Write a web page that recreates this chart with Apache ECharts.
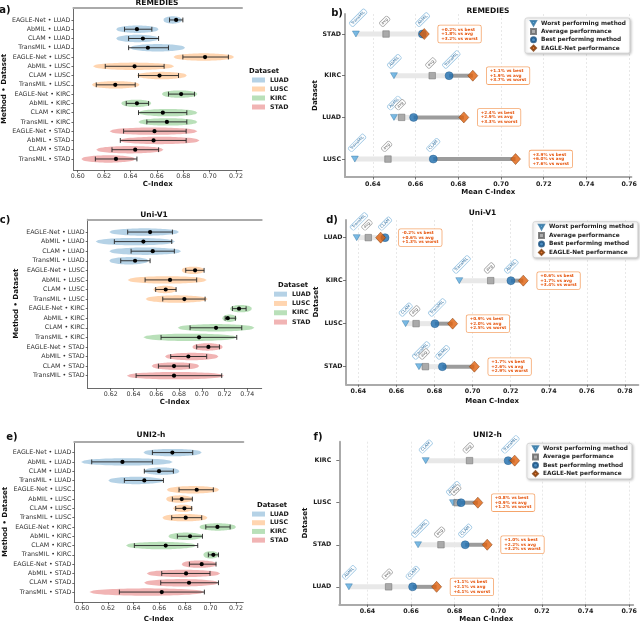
<!DOCTYPE html>
<html>
<head>
<meta charset="utf-8">
<title>EAGLE-Net C-Index</title>
<script src="https://cdn.jsdelivr.net/npm/echarts@6/dist/echarts.min.js"></script>
<style>
  html, body { margin: 0; padding: 0; background: #fff; }
  #chart { width: 640px; height: 624px; }
</style>
</head>
<body>
<div id="chart"></div>
<script>
// row labels shared by panels a, c, e (top to bottom)
var rowLabels = [
  'EAGLE-Net • LUAD', 'AbMIL • LUAD', 'CLAM • LUAD', 'TransMIL • LUAD',
  'EAGLE-Net • LUSC', 'AbMIL • LUSC', 'CLAM • LUSC', 'TransMIL • LUSC',
  'EAGLE-Net • KIRC', 'AbMIL • KIRC', 'CLAM • KIRC', 'TransMIL • KIRC',
  'EAGLE-Net • STAD', 'AbMIL • STAD', 'CLAM • STAD', 'TransMIL • STAD'
];
var datasets = ['LUAD', 'LUSC', 'KIRC', 'STAD'];
var rowIdx = [0, 1, 2, 3, 4, 5, 6, 7, 8, 9, 10, 11, 12, 13, 14, 15];

// a) REMEDIES - spread over runs
var violinA = [[0.665, 0.679], [0.6292, 0.6613], [0.6292, 0.6613], [0.6398, 0.6814],
  [0.6726, 0.7185], [0.6116, 0.6731], [0.6449, 0.6827], [0.6108, 0.6469],
  [0.6638, 0.6907], [0.633, 0.6557], [0.6461, 0.6907], [0.6461, 0.6907],
  [0.6242, 0.6907], [0.6318, 0.6923], [0.6141, 0.665], [0.6028, 0.6436]];
var errA = [[0.6696, 0.6797], [0.6355, 0.6562], [0.6386, 0.6613], [0.6386, 0.6688],
  [0.6797, 0.7142], [0.6209, 0.6655], [0.6461, 0.6764], [0.6141, 0.6436],
  [0.6688, 0.6885], [0.6368, 0.6537], [0.6461, 0.6827], [0.6524, 0.6827],
  [0.6348, 0.6822], [0.6323, 0.6822], [0.626, 0.6613], [0.6134, 0.6449]];
var meanA = [0.6746, 0.6449, 0.6494, 0.6532, 0.6965, 0.6431, 0.662, 0.6285,
  0.6784, 0.6449, 0.6645, 0.6676, 0.6582, 0.6575, 0.6436, 0.629];
var ticksA = [0.60, 0.62, 0.64, 0.66, 0.68, 0.70, 0.72];

// c) Uni-V1
var violinC = [[0.6188, 0.68], [0.6068, 0.6765], [0.6188, 0.6818], [0.6188, 0.6531],
  [0.6824, 0.7023], [0.6349, 0.7043], [0.6575, 0.678], [0.6507, 0.7052],
  [0.7248, 0.7439], [0.7181, 0.7307], [0.6789, 0.7462], [0.6487, 0.7307],
  [0.6917, 0.7184], [0.6677, 0.7146], [0.656, 0.6977], [0.6341, 0.7196]];
var errC = [[0.6349, 0.6742], [0.6232, 0.6736], [0.6379, 0.6759], [0.6288, 0.6546],
  [0.6859, 0.702], [0.6502, 0.6955], [0.6595, 0.6774], [0.6657, 0.7029],
  [0.7269, 0.7389], [0.7205, 0.7295], [0.6897, 0.7351], [0.6642, 0.7307],
  [0.6955, 0.7155], [0.6727, 0.7043], [0.6619, 0.6891], [0.6423, 0.7175]];
var meanC = [0.6546, 0.6487, 0.6569, 0.6414, 0.6941, 0.6721, 0.6683, 0.6847,
  0.7327, 0.7228, 0.7125, 0.6976, 0.7058, 0.6882, 0.6756, 0.6756];
var ticksC = [0.62, 0.64, 0.66, 0.68, 0.70, 0.72, 0.74];

// e) UNI2-h
var violinE = [[0.6477, 0.6932], [0.599, 0.6706], [0.6482, 0.6758], [0.6203, 0.6633],
  [0.6659, 0.7068], [0.6654, 0.6862], [0.6711, 0.6862], [0.6625, 0.6977],
  [0.6914, 0.72], [0.6672, 0.694], [0.6341, 0.6888], [0.6945, 0.7063],
  [0.6776, 0.705], [0.6503, 0.7076], [0.6482, 0.7063], [0.6055, 0.6953]];
var errE = [[0.6547, 0.6862], [0.6073, 0.6547], [0.6484, 0.6711], [0.6328, 0.6633],
  [0.6755, 0.7023], [0.6703, 0.6859], [0.6729, 0.6854], [0.6698, 0.6932],
  [0.6964, 0.7154], [0.6742, 0.6938], [0.6406, 0.6901], [0.6984, 0.7063],
  [0.6836, 0.7044], [0.662, 0.6997], [0.6612, 0.7063], [0.6289, 0.6953]];
var meanE = [0.6703, 0.6313, 0.6599, 0.6484, 0.6893, 0.6776, 0.6797, 0.6807,
  0.7055, 0.6841, 0.6651, 0.7023, 0.6932, 0.681, 0.6833, 0.662];
var ticksE = [0.60, 0.62, 0.64, 0.66, 0.68, 0.70, 0.72];

// b) REMEDIES - mean C-index summary
var dsB = ['STAD', 'KIRC', 'LUAD', 'LUSC'];
var worstB = [0.6321, 0.6499, 0.6499, 0.6316];
var avgB = [0.6462, 0.6678, 0.6535, 0.6471];
var bestB = [0.6632, 0.6757, 0.6591, 0.6683];
var eagleB = [0.6641, 0.6868, 0.6826, 0.7068];
var worstNameB = ['TransMIL', 'AbMIL', 'AbMIL', 'TransMIL'];
var bestNameB = ['AbMIL', 'TransMIL', '', 'CLAM'];
var gainB = [['+0.2% vs best', '+1.8% vs avg', '+3.2% vs worst'],
  ['+1.1% vs best', '+1.9% vs avg', '+3.7% vs worst'],
  ['+2.4% vs best', '+2.9% vs avg', '+3.3% vs worst'],
  ['+3.9% vs best', '+6.0% vs avg', '+7.6% vs worst']];
var ticksB = [0.64, 0.66, 0.68, 0.70, 0.72, 0.74, 0.76];

// d) Uni-V1
var dsD = ['LUAD', 'KIRC', 'LUSC', 'STAD'];
var worstD = [0.6391, 0.693, 0.6648, 0.6718];
var avgD = [0.6452, 0.7095, 0.6703, 0.6752];
var bestD = [0.654, 0.7201, 0.6802, 0.6841];
var eagleD = [0.6517, 0.7266, 0.6895, 0.7009];
var worstNameD = ['TransMIL', 'TransMIL', 'CLAM', 'TransMIL'];
var bestNameD = ['CLAM', 'AbMIL', 'TransMIL', 'AbMIL'];
var gainD = [['-0.2% vs best', '+0.6% vs avg', '+1.3% vs worst'],
  ['+0.6% vs best', '+1.7% vs avg', '+3.4% vs worst'],
  ['+0.9% vs best', '+2.0% vs avg', '+2.5% vs worst'],
  ['+1.7% vs best', '+2.6% vs avg', '+2.9% vs worst']];
var ticksD = [0.64, 0.66, 0.68, 0.70, 0.72, 0.74, 0.76, 0.78];

// f) UNI2-h
var dsF = ['KIRC', 'LUSC', 'STAD', 'LUAD'];
var worstF = [0.6667, 0.6792, 0.6632, 0.6315];
var avgF = [0.6868, 0.6811, 0.6737, 0.6497];
var bestF = [0.7045, 0.6829, 0.6848, 0.6607];
var eagleF = [0.7075, 0.6906, 0.6949, 0.6717];
var worstNameF = ['CLAM', 'AbMIL', 'TransMIL', 'AbMIL'];
var bestNameF = ['TransMIL', '', 'CLAM', 'CLAM'];
var gainF = [['+0.3% vs best', '+2.1% vs avg', '+4.1% vs worst'],
  ['+0.8% vs best', '+0.9% vs avg', '+1.2% vs worst'],
  ['+1.0% vs best', '+2.2% vs avg', '+3.2% vs worst'],
  ['+1.1% vs best', '+2.1% vs avg', '+4.1% vs worst']];
var ticksF = [0.64, 0.66, 0.68, 0.70, 0.72, 0.74, 0.76];

var FONT = 'DejaVu Sans';
var dsColors = ['rgba(31,119,180,0.33)', 'rgba(255,127,14,0.33)', 'rgba(44,160,44,0.33)', 'rgba(214,39,40,0.35)'];
var markerNames = ['Worst performing method', 'Average performance', 'Best performing method', 'EAGLE-Net performance'];

var option = {
  animation: false,
  textStyle: { fontFamily: FONT },
  grid: [], xAxis: [], yAxis: [], series: [], legend: [], graphic: []
};

function fmt2(v) { return v.toFixed(2); }

// horizontal violin + error bar + mean dot
function renderViolin(params, api) {
  var r = api.value(0);
  var lo = api.coord([api.value(1), r]);
  var hi = api.coord([api.value(2), r]);
  var e0 = api.coord([api.value(3), r]);
  var e1 = api.coord([api.value(4), r]);
  var m = api.coord([api.value(5), r]);
  var y = lo[1], H = 3.7;
  var top = [], bot = [];
  for (var i = 0; i <= 30; i++) {
    var t = i / 30;
    var x = lo[0] + (hi[0] - lo[0]) * t;
    var h = H * Math.pow(Math.sin(Math.PI * t), 0.4);
    top.push([x, y - h]);
    bot.unshift([x, y + h]);
  }
  var ink = { stroke: '#222', lineWidth: 0.9 };
  return {
    type: 'group',
    children: [
      { type: 'polygon', shape: { points: top.concat(bot) }, style: { fill: api.visual('color') } },
      { type: 'line', shape: { x1: e0[0], y1: y, x2: e1[0], y2: y }, style: ink },
      { type: 'line', shape: { x1: e0[0], y1: y - 2.4, x2: e0[0], y2: y + 2.4 }, style: ink },
      { type: 'line', shape: { x1: e1[0], y1: y - 2.4, x2: e1[0], y2: y + 2.4 }, style: ink },
      { type: 'circle', shape: { cx: m[0], cy: y, r: 2.1 }, style: { fill: '#000' } }
    ]
  };
}

function addViolinPanel(p) {
  var gi = option.grid.length;
  option.grid.push({ left: p.box[0], top: p.box[1], width: p.box[2], height: p.box[3] });
  var xi = option.xAxis.length;
  option.xAxis.push({
    type: 'value', gridIndex: gi, min: p.xr[0], max: p.xr[1],
    name: 'C-Index', nameLocation: 'middle', nameGap: p.gaps[0],
    nameTextStyle: { fontSize: 7, fontWeight: 'bold', color: '#111' },
    axisLine: { show: true, onZero: false, lineStyle: { color: '#444', width: 0.8 } },
    axisTick: { show: true, length: 2.5, customValues: p.ticks, lineStyle: { color: '#444', width: 0.8 } },
    axisLabel: { customValues: p.ticks, fontSize: 6.3, color: '#333', margin: 3.5, formatter: fmt2 },
    splitLine: { show: false }
  });
  option.xAxis.push({
    type: 'value', gridIndex: gi, position: 'top', min: p.xr[0], max: p.xr[1],
    axisLine: { show: true, onZero: false, lineStyle: { color: '#aaa', width: 2 } },
    axisTick: { show: false }, axisLabel: { show: false }, splitLine: { show: false }
  });
  var yi = option.yAxis.length;
  option.yAxis.push({
    type: 'value', gridIndex: gi, inverse: true, min: p.yr[0], max: p.yr[1],
    name: 'Method • Dataset', nameLocation: 'middle', nameGap: p.gaps[1],
    nameTextStyle: { fontSize: 7, fontWeight: 'bold', color: '#111' },
    axisLine: { show: true, onZero: false, lineStyle: { color: '#444', width: 0.8 } },
    axisTick: { show: true, length: 2, customValues: rowIdx, lineStyle: { color: '#444', width: 0.8 } },
    axisLabel: { customValues: rowIdx, fontSize: 6.3, color: '#333', margin: 3,
      formatter: function (v) { return rowLabels[v]; } },
    splitLine: { show: false }
  });
  datasets.forEach(function (ds, d) {
    var data = [0, 1, 2, 3].map(function (k) {
      var r = d * 4 + k;
      return [r, p.violin[r][0], p.violin[r][1], p.err[r][0], p.err[r][1], p.mean[r]];
    });
    option.series.push({
      type: 'custom', name: ds, xAxisIndex: xi, yAxisIndex: yi,
      itemStyle: { color: dsColors[d] }, renderItem: renderViolin,
      encode: { x: [1, 2], y: 0 }, data: data, silent: true
    });
  });
  option.legend.push({
    orient: 'vertical', left: p.leg[0], top: p.leg[1], padding: 0, itemGap: 0,
    itemWidth: 13, itemHeight: 5, icon: 'rect', data: datasets, selectedMode: false,
    textStyle: { fontSize: 6.3, fontWeight: 'bold', color: '#222', lineHeight: p.leg[2] }
  });
}

function renderRange(params, api) {
  var r = api.value(0);
  var w = api.coord([api.value(1), r]);
  var b = api.coord([api.value(2), r]);
  var e = api.coord([api.value(3), r]);
  return {
    type: 'group',
    children: [
      { type: 'line', shape: { x1: w[0], y1: w[1], x2: b[0], y2: b[1] }, style: { stroke: '#e8e8e8', lineWidth: 5 } },
      { type: 'line', shape: { x1: b[0], y1: b[1], x2: e[0], y2: e[1] }, style: { stroke: '#9c9c9c', lineWidth: 4 } }
    ]
  };
}

function makeTagRenderer(worstName, bestName) {
  return function (params, api) {
    var r = api.value(0), i = params.dataIndex;
    var tags = [[api.value(1), worstName[i], false], [api.value(2), 'avg', true], [api.value(3), bestName[i], false]];
    var kids = [];
    tags.forEach(function (t) {
      if (!t[1]) return;
      var c = api.coord([t[0], r]);
      kids.push({
        type: 'text', x: c[0] - 5, y: c[1] - 9, rotation: Math.PI / 4,
        style: {
          text: t[1], fontSize: 4, fontFamily: FONT, fill: t[2] ? '#555' : '#2b6c9e',
          backgroundColor: 'rgba(255,255,255,0.9)', borderColor: t[2] ? '#9a9a9a' : '#8fbfe0',
          borderWidth: 0.6, borderRadius: 1, padding: [0.5, 1.5], align: 'left', verticalAlign: 'middle'
        }
      });
    });
    return { type: 'group', children: kids };
  };
}

function makeGainRenderer(gain) {
  return function (params, api) {
    var r = api.value(0);
    var c = api.coord([Math.max(api.value(1), api.value(2)), r]);
    return {
      type: 'text', x: c[0] + 14, y: c[1],
      style: {
        text: gain[params.dataIndex].join('\n'), fontSize: 4.2, lineHeight: 4.6, fontFamily: FONT,
        fontWeight: 'bold', fill: '#e6550d', backgroundColor: '#fff', borderColor: '#f5a56b',
        borderWidth: 0.8, borderRadius: 1.5, padding: [1.5, 3], align: 'left', verticalAlign: 'middle'
      }
    };
  };
}

function addDotPanel(p) {
  var gi = option.grid.length;
  option.grid.push({ left: p.box[0], top: p.box[1], width: p.box[2], height: p.box[3] });
  var xi = option.xAxis.length;
  option.xAxis.push({
    type: 'value', gridIndex: gi, min: p.xr[0], max: p.xr[1],
    name: 'Mean C-Index', nameLocation: 'middle', nameGap: p.gaps[0],
    nameTextStyle: { fontSize: 7, fontWeight: 'bold', color: '#111' },
    axisLine: { show: true, onZero: false, lineStyle: { color: '#aaa', width: 2 } },
    axisTick: { show: true, length: 2.5, customValues: p.ticks, lineStyle: { color: '#555', width: 0.8 } },
    axisLabel: { customValues: p.ticks, fontSize: 6.3, fontWeight: 'bold', color: '#222', margin: 4, formatter: fmt2 },
    splitLine: { show: false }
  });
  var yi = option.yAxis.length;
  var rows = p.ds.map(function (_, i) { return i; });
  option.yAxis.push({
    type: 'value', gridIndex: gi, inverse: true, min: p.yr[0], max: p.yr[1],
    name: 'Dataset', nameLocation: 'middle', nameGap: p.gaps[1],
    nameTextStyle: { fontSize: 7, fontWeight: 'bold', color: '#111' },
    axisLine: { show: true, onZero: false, lineStyle: { color: '#aaa', width: 2 } },
    axisTick: { show: true, length: 3, customValues: rows, lineStyle: { color: '#555', width: 0.8 } },
    axisLabel: { customValues: rows, fontSize: 6.3, fontWeight: 'bold', color: '#222', margin: p.lm,
      formatter: function (v) { return p.ds[v]; } },
    splitLine: { show: false }
  });
  var ax = { xAxisIndex: xi, yAxisIndex: yi };
  function pts(arr) { return rows.map(function (i) { return [arr[i], i]; }); }
  option.series.push(Object.assign({
    type: 'custom', z: 3, silent: true, renderItem: renderRange, encode: { x: [1, 2, 3], y: 0 },
    data: rows.map(function (i) { return [i, p.worst[i], p.best[i], p.eagle[i]]; })
  }, ax));
  option.series.push(Object.assign({
    type: 'scatter', name: markerNames[0], z: 4, symbol: 'path://M0,0L10,0L5,9Z', symbolSize: [7, 6],
    itemStyle: { color: '#5aaade', borderColor: '#2a6f9e', borderWidth: 0.5 }, data: pts(p.worst),
    markLine: {
      silent: true, z: 1, symbol: 'none', label: { show: false },
      lineStyle: { color: '#e3e3e3', type: [2, 2], width: 0.8 },
      data: p.ticks.map(function (v) { return { xAxis: v }; })
    }
  }, ax));
  option.series.push(Object.assign({
    type: 'scatter', name: markerNames[1], z: 4, symbol: 'rect', symbolSize: 6.5,
    itemStyle: { color: '#9a9a9a', borderColor: '#666', borderWidth: 0.6 }, data: pts(p.avg)
  }, ax));
  option.series.push(Object.assign({
    type: 'scatter', name: markerNames[2], z: 5, symbol: 'circle', symbolSize: 8,
    itemStyle: { color: '#1f6fb0', borderColor: '#174f80', borderWidth: 0.5 }, data: pts(p.best)
  }, ax));
  option.series.push(Object.assign({
    type: 'scatter', name: markerNames[3], z: 6, symbol: 'diamond', symbolSize: [10, 11],
    itemStyle: { color: '#e0600c', borderColor: '#7a3300', borderWidth: 0.6 }, data: pts(p.eagle)
  }, ax));
  option.series.push(Object.assign({
    type: 'custom', z: 7, silent: true, renderItem: makeTagRenderer(p.worstName, p.bestName),
    encode: { x: [1, 2, 3], y: 0 },
    data: rows.map(function (i) { return [i, p.worst[i], p.avg[i], p.best[i]]; })
  }, ax));
  option.series.push(Object.assign({
    type: 'custom', z: 7, silent: true, renderItem: makeGainRenderer(p.gain),
    encode: { x: [1, 2], y: 0 },
    data: rows.map(function (i) { return [i, p.eagle[i], p.best[i]]; })
  }, ax));
  option.legend.push({
    orient: 'vertical', left: p.leg[0], top: p.leg[1], padding: [1, 4, 1, 5], itemGap: 0, z: 20,
    itemWidth: 5, itemHeight: 5, data: markerNames, selectedMode: false,
    backgroundColor: '#fff', borderColor: '#cfcfcf', borderWidth: 0.8, borderRadius: 2,
    shadowBlur: 3, shadowColor: 'rgba(0,0,0,0.25)', shadowOffsetX: 1, shadowOffsetY: 1,
    textStyle: { fontSize: 5.8, fontWeight: 'bold', color: '#222', lineHeight: p.leg[2] }
  });
}

addViolinPanel({ box: [72.7, 8, 169.3, 162], xr: [0.5968, 0.7245], yr: [-1.29, 16.19], ticks: ticksA,
  violin: violinA, err: errA, mean: meanA, gaps: [10.5, 64.5], leg: [252, 75.5, 9] });
addViolinPanel({ box: [87.7, 219.3, 174, 169], xr: [0.5998, 0.7526], yr: [-1.33, 16.32], ticks: ticksC,
  violin: violinC, err: errC, mean: meanC, gaps: [10, 68], leg: [274, 289.5, 9.3] });
addViolinPanel({ box: [74.3, 441.7, 169, 161.6], xr: [0.5937, 0.7257], yr: [-1.17, 16.07], ticks: ticksE,
  violin: violinE, err: errE, mean: meanE, gaps: [14, 66], leg: [252, 509.7, 8.7] });

addDotPanel({ box: [345, 14, 287, 163], xr: [0.627, 0.761], yr: [-0.48, 3.43], ticks: ticksB, ds: dsB,
  worst: worstB, avg: avgB, best: bestB, eagle: eagleB, worstName: worstNameB, bestName: bestNameB,
  gain: gainB, gaps: [12, 23.5], lm: 4, leg: [525, 18, 8.3] });
addDotPanel({ box: [346, 220, 292.3, 164.3], xr: [0.6335, 0.787], yr: [-0.41, 3.41], ticks: ticksD, ds: dsD,
  worst: worstD, avg: avgD, best: bestD, eagle: eagleD, worstName: worstNameD, bestName: bestNameD,
  gain: gainD, gaps: [13, 24.5], lm: 3.5, leg: [533, 221.7, 8.5] });
addDotPanel({ box: [339.3, 441.7, 297.4, 163.3], xr: [0.6271, 0.7618], yr: [-0.45, 3.42], ticks: ticksF, ds: dsF,
  worst: worstF, avg: avgF, best: bestF, eagle: eagleF, worstName: worstNameF, bestName: bestNameF,
  gain: gainF, gaps: [11.5, 24.3], lm: 8, leg: [527, 443.3, 8.4] });

// panel letters, titles and legend headers
function label(x, y, text, size) {
  option.graphic.push({
    type: 'text', x: x, y: y, silent: true,
    style: { text: text, fontSize: size, fontWeight: 'bold', fontFamily: FONT, fill: '#111',
      align: 'center', verticalAlign: 'middle' }
  });
}
label(5, 10, 'a)', 10);
label(337, 13, 'b)', 10);
label(5, 220, 'c)', 10);
label(332, 220, 'd)', 10);
label(12, 437, 'e)', 10);
label(318, 437, 'f)', 10);
label(157, 3.5, 'REMEDIES', 7.5);
label(488, 10.7, 'REMEDIES', 7.5);
label(154, 215, 'Uni-V1', 7.5);
label(482.5, 213.3, 'Uni-V1', 7.5);
label(151, 435, 'UNI2-h', 7.5);
label(487.5, 435, 'UNI2-h', 7.5);
label(264, 71, 'Dataset', 6.8);
label(293, 285, 'Dataset', 6.8);
label(272, 505.7, 'Dataset', 6.8);

var chart = echarts.init(document.getElementById('chart'), null, { renderer: 'canvas' });
chart.setOption(option);
</script>
</body>
</html>
